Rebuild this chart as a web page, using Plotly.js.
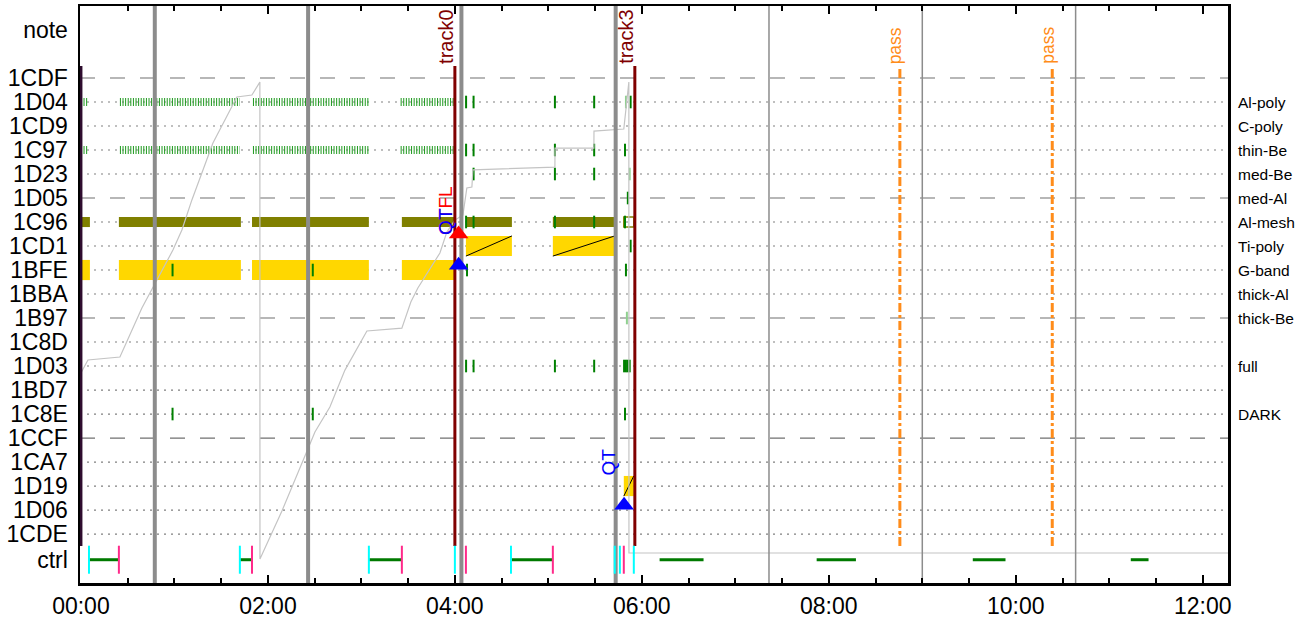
<!DOCTYPE html>
<html><head><meta charset="utf-8">
<script src="https://cdn.plot.ly/plotly-3.0.1.min.js"></script>
<style>html,body{margin:0;padding:0;background:#fff}</style>
</head><body><div id="chart" style="width:1312px;height:623px"></div>
<script>
// ---------- data ----------
const rowNames  = ['1CDE','1D06','1D19','1CA7','1CCF','1C8E','1BD7','1D03','1C8D','1B97','1BBA','1BFE','1CD1','1C96','1D05','1D23','1C97','1CD9','1D04','1CDF'];
const rowValues = [1,2,3,4,5,6,7,8,9,10,11,12,13,14,15,16,17,18,19,20];
const dashedRows = [5,10,15,20];
const noteRow = 22;
const ctrlRow = -0.07;

const filterRows   = [19,18,17,16,15,14,13,12,11,10,8,6];
const filterLabels = ['Al-poly','C-poly','thin-Be','med-Be','med-Al','Al-mesh','Ti-poly','G-band','thick-Al','thick-Be','full','DARK'];

const tickHours  = [0,2,4,6,8,10,12];
const tickLabels = ['00:00','02:00','04:00','06:00','08:00','10:00','12:00'];

// olive (Al-mesh, row 14) exposure intervals, hours
const oliveRow = 14;
const oliveStart = [0.0, 0.406, 1.83, 3.433, 4.118, 5.048];
const oliveEnd   = [0.096, 1.711, 3.08, 4.0, 4.61, 5.71];
const hollowStart = [5.807];
const hollowEnd   = [5.914];

// yellow (G-band, row 12)
const gbandRow = 12;
const gbandStart = [0.0, 0.406, 1.83, 3.433];
const gbandEnd   = [0.096, 1.711, 3.08, 4.0];

// yellow with diagonal (Ti-poly row 13, 1D19 row 3)
const slashRows  = [13, 13, 3];
const slashStart = [4.118, 5.048, 5.807];
const slashEnd   = [4.61, 5.71, 5.914];

// dense green tick runs (rows 1D04, 1C97)
const denseRows  = [19, 17];
const denseStart = [0.0, 0.417, 1.84, 3.42];
const denseEnd   = [0.075, 1.70, 3.08, 3.99];

// single green ticks
const tickTimes = [4.12,4.20,5.07,5.49,5.88,
                   4.12,4.20,5.07,5.49,5.82,
                   4.20,5.07,5.49,
                   5.85,
                   4.12,4.20,5.07,5.49,5.82,
                   5.88,
                   0.98,2.48,4.13,5.83,
                   4.12,4.20,5.07,5.49,5.81,5.83,5.85,5.87,
                   0.98,2.48,5.82];
const tickRows  = [19,19,19,19,19,
                   17,17,17,17,17,
                   16,16,16,
                   15,
                   14,14,14,14,14,
                   13,
                   12,12,12,12,
                   8,8,8,8,8,8,8,8,
                   6,6,6];
const faintTimes = [5.83, 5.87, 5.84];
const faintRows  = [19, 16, 10];

// cumulative gray trace
const cumHours = [0.0,0.0,0.075,0.417,0.652,0.813,0.984,1.080,1.187,1.412,1.668,1.829,1.914,1.915,
                  2.150,2.481,2.503,2.663,2.824,3.059,3.433,3.529,3.604,3.840,3.914,4.000,4.086,4.128,4.182,4.193,
                  5.070,5.071,5.487,5.488,5.807,5.861,5.862,12.27];
const cumLevel = [7.29,7.71,8.25,8.375,10.42,11.58,12.83,13.67,14.92,17.29,19.21,19.29,19.83,-0.04,
                  1.96,5.04,5.25,6.29,7.83,9.46,9.58,10.67,11.25,12.71,13.58,14.08,14.29,15.42,15.46,16.17,
                  16.29,17.08,17.08,17.79,17.875,19.83,0.21,0.21];

// orbit boundaries
const orbitThick = [0.79, 2.43, 4.07, 5.72];
const orbitThin  = [7.36, 9.0, 10.64];

// tracks and passes
const trackTimes  = [4.0, 5.925];
const trackLabels = ['track0','track3'];
const passTimes   = [8.76, 10.39];
const startLine   = [0.0];

// ctrl row
const ctrlStartTicks = [0.086, 1.70, 3.08, 4.0, 4.60, 5.71, 5.765, 5.914];
const ctrlEndTicks   = [0.406, 1.83, 3.433, 4.118, 5.048, 5.807];
const ctrlSegStart   = [0.086, 1.70, 3.08, 4.60, 6.19, 7.87, 9.54, 11.23];
const ctrlSegEnd     = [0.406, 1.83, 3.433, 5.048, 6.66, 8.29, 9.89, 11.42];

// markers
const redTriX = [4.04],  redTriY = [13.5];
const blueTriX = [4.04, 5.81], blueTriY = [12.2, 2.2];
const qLabels = [
  {x:4.0,  y:13.375, text:'QTFL', color:'#ff0000'},
  {x:4.0,  y:13.375, text:'QT',   color:'#0000ff'},
  {x:5.75, y:3.375,  text:'QT',   color:'#0000ff'}
];

// ---------- helpers ----------
const Y0 = -1.04, Y1 = 23.0;
function vlines(xs, y0, y1){
  const x=[], y=[];
  xs.forEach(v=>{x.push(v,v,null); y.push(y0,y1,null);});
  return {x,y};
}
function hsegs(starts, ends, rowsFn){
  const x=[], y=[];
  starts.forEach((s,i)=>{const r=rowsFn(i); x.push(s,ends[i],null); y.push(r,r,null);});
  return {x,y};
}
function hbars(starts, ends, rows, h, fill, lc, lw){
  return {type:'bar', orientation:'h', base:starts, x:ends.map((e,i)=>e-starts[i]),
    y:rows, width:h, marker:{color:fill, line:{color:lc||fill, width:lw||0}},
    hoverinfo:'skip', showlegend:false};
}

const traces = [];
traces.push(hbars(oliveStart, oliveEnd, oliveStart.map(()=>oliveRow), 0.42, '#808000'));
traces.push(hbars(hollowStart, hollowEnd, [oliveRow], 0.42, 'rgba(0,0,0,0)', '#808000', 1.5));
traces.push(hbars(gbandStart, gbandEnd, gbandStart.map(()=>gbandRow), 0.84, '#FFD700'));
traces.push(hbars(slashStart, slashEnd, slashRows, 0.84, '#FFD700'));
// diagonals
(function(){
  const x=[], y=[];
  slashStart.forEach((s,i)=>{x.push(s,slashEnd[i],null); y.push(slashRows[i]-0.42, slashRows[i]+0.42, null);});
  traces.push({type:'scatter', mode:'lines', x, y, line:{color:'#000', width:1}, hoverinfo:'skip', showlegend:false});
})();
// dense ticks
(function(){
  const x=[], y=[];
  denseRows.forEach(r=>denseStart.forEach((s,i)=>{x.push(s,denseEnd[i],null); y.push(r,r,null);}));
  traces.push({type:'scatter', mode:'lines', x, y, line:{color:'#1f9a1f', width:8, dash:'1px,1.6px'}, hoverinfo:'skip', showlegend:false});
})();
traces.push({type:'scatter', mode:'markers', x:faintTimes, y:faintRows,
  marker:{symbol:'line-ns', size:9, line:{color:'#8fd08f', width:2}}, hoverinfo:'skip', showlegend:false});
traces.push({type:'scatter', mode:'markers', x:tickTimes, y:tickRows,
  marker:{symbol:'line-ns', size:9, line:{color:'#008000', width:2}}, hoverinfo:'skip', showlegend:false});
// cumulative line
traces.push({type:'scatter', mode:'lines', x:cumHours, y:cumLevel, line:{color:'#c4c4c4', width:1.2}, hoverinfo:'skip', showlegend:false});
// orbit lines
let v = vlines(orbitThick, Y0, Y1);
traces.push({type:'scatter', mode:'lines', x:v.x, y:v.y, line:{color:'#8c8c8c', width:4}, hoverinfo:'skip', showlegend:false});
v = vlines(orbitThin, Y0, Y1);
traces.push({type:'scatter', mode:'lines', x:v.x, y:v.y, line:{color:'#8c8c8c', width:1.5}, hoverinfo:'skip', showlegend:false});
// start line
v = vlines(startLine, 0.5, 20.5);
traces.push({type:'scatter', mode:'lines', x:v.x, y:v.y, line:{color:'#2e0c2e', width:3}, hoverinfo:'skip', showlegend:false, cliponaxis:false});
// tracks
v = vlines(trackTimes, 0.5, 20.5);
traces.push({type:'scatter', mode:'lines', x:v.x, y:v.y, line:{color:'#800000', width:3}, hoverinfo:'skip', showlegend:false});
// passes
v = vlines(passTimes, 0.5, 20.5);
traces.push({type:'scatter', mode:'lines', x:v.x, y:v.y, line:{color:'#ff8c1a', width:3, dash:'dashdot'}, hoverinfo:'skip', showlegend:false});
// ctrl
const cs = hsegs(ctrlSegStart, ctrlSegEnd, ()=>ctrlRow);
traces.push({type:'scatter', mode:'lines', x:cs.x, y:cs.y, line:{color:'#007a00', width:3}, hoverinfo:'skip', showlegend:false});
traces.push({type:'scatter', mode:'markers', x:ctrlStartTicks, y:ctrlStartTicks.map(()=>ctrlRow),
  marker:{symbol:'line-ns', size:20, line:{color:'#00ffff', width:2}}, hoverinfo:'skip', showlegend:false});
traces.push({type:'scatter', mode:'markers', x:ctrlEndTicks, y:ctrlEndTicks.map(()=>ctrlRow),
  marker:{symbol:'line-ns', size:20, line:{color:'#ff2a8a', width:2}}, hoverinfo:'skip', showlegend:false});
// triangles
traces.push({type:'scatter', mode:'markers', x:redTriX, y:redTriY,
  marker:{symbol:'triangle-up', size:17, color:'#ff0000'}, hoverinfo:'skip', showlegend:false});
traces.push({type:'scatter', mode:'markers', x:blueTriX, y:blueTriY,
  marker:{symbol:'triangle-up', size:17, color:'#0000ff'}, hoverinfo:'skip', showlegend:false});

// ---------- shapes: row grid ----------
const shapes = rowValues.map(r=>({
  type:'line', xref:'paper', x0:0, x1:1, yref:'y', y0:r, y1:r, layer:'below',
  line: dashedRows.includes(r) ? {color:'#707070', width:1.2, dash:'15px,15px'} : {color:'#808080', width:1.2, dash:'2px,5px'}
}));

// ---------- annotations ----------
const FONT = 'Liberation Sans, Arial, sans-serif';
const annotations = [];
filterRows.forEach((r,i)=>annotations.push({xref:'paper', x:1, xshift:8, yref:'y', y:r, text:filterLabels[i],
  showarrow:false, xanchor:'left', yanchor:'middle', font:{family:FONT, size:15.5, color:'#000'}}));
trackTimes.forEach((t,i)=>annotations.push({xref:'x', x:t, yref:'y', y:20.5, text:trackLabels[i], textangle:-90,
  showarrow:false, xanchor:'right', yanchor:'bottom', xshift:4, font:{family:FONT, size:20, color:'#800000'}}));
passTimes.forEach(t=>annotations.push({xref:'x', x:t, yref:'y', y:20.5, text:'pass', textangle:-90,
  showarrow:false, xanchor:'right', yanchor:'bottom', xshift:7, font:{family:FONT, size:17.5, color:'#ff8c1a'}}));
qLabels.forEach(q=>annotations.push({xref:'x', x:q.x, yref:'y', y:q.y, text:q.text, textangle:-90,
  showarrow:false, xanchor:'right', yanchor:'bottom', xshift:3, font:{family:FONT, size:19, color:q.color}}));

const layout = {
  width:1312, height:623,
  margin:{l:80, r:84, t:6, b:40, pad:0},
  paper_bgcolor:'#fff', plot_bgcolor:'#fff',
  barmode:'overlay', showlegend:false,
  font:{family:FONT, color:'#000'},
  xaxis:{range:[-0.01,12.27], tickvals:tickHours, ticktext:tickLabels, ticks:'inside', ticklen:8, tickwidth:2.5,
    tickcolor:'#000', showline:true, linecolor:'#000', linewidth:2.5, mirror:'ticks', showgrid:false, zeroline:false,
    tickfont:{family:FONT, size:23}, ticklabelstandoff:1,
    minor:{dtick:0.5, tick0:0, ticks:'inside', ticklen:5, tickwidth:2, tickcolor:'#000', showgrid:false}},
  yaxis:{range:[Y0,Y1], tickvals:[...rowValues, noteRow, ctrlRow], ticktext:[...rowNames,'note','ctrl'],
    showline:true, linecolor:'#000', linewidth:2.5, mirror:true, showgrid:false, zeroline:false, ticks:'',
    tickfont:{family:FONT, size:23}, ticklabelstandoff:5},
  shapes, annotations
};
Plotly.newPlot('chart', traces, layout, {displayModeBar:false, staticPlot:true});
</script></body></html>
